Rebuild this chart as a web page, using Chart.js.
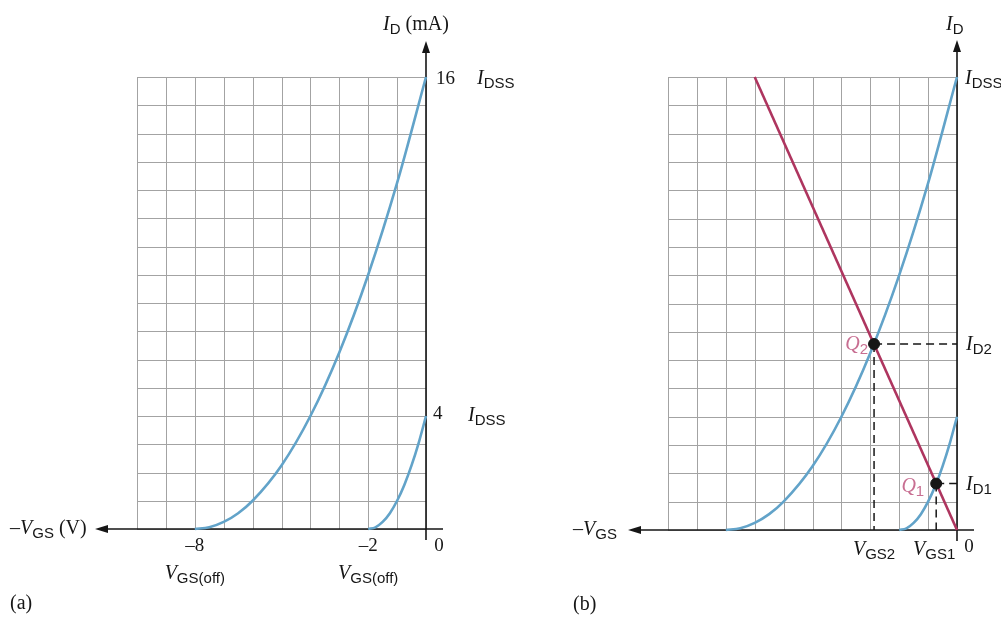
<!DOCTYPE html>
<html>
<head>
<meta charset="utf-8">
<script src="https://cdn.jsdelivr.net/npm/chart.js@4.4.1/dist/chart.umd.min.js"></script>
<style>
  html, body { margin: 0; padding: 0; background: #fff; }
  #wrap { position: relative; width: 1001px; height: 619px; overflow: hidden; }
  canvas { position: absolute; top: 0; }
  #chartA { left: 0; }
  #chartB { left: 500px; }
</style>
</head>
<body>
<div id="wrap">
  <canvas id="chartA" width="1001" height="619"></canvas>
  <canvas id="chartB" width="501" height="619"></canvas>
</div>
<script>
// transfer curve, IDSS = 16 mA, VGS(off) = -8 V
const vgsOuter = [-8, -7.5, -7, -6.5, -6, -5, -4, -3, -2, -1, 0];
const idOuter = [0, 0.06, 0.25, 0.56, 1, 2.25, 4, 6.25, 9, 12.25, 16];

// transfer curve, IDSS = 4 mA, VGS(off) = -2 V
const vgsInner = [-2, -1.75, -1.5, -1.25, -1, -0.75, -0.5, -0.25, 0];
const idInner = [0, 0.06, 0.25, 0.56, 1, 1.56, 2.25, 3.06, 4];

// self-bias line and the two Q-points on it
const loadVgs = [-7, 0];
const loadId = [16, 0];
const qVgs = [-0.72, -2.87];
const qId = [1.64, 6.57];
const qNames = ['1', '2'];

const xTicks = [-8, -2, 0];

const BLUE = '#62a3c9';
const RED = '#ae355f';
const PINK = '#c86f92';
const INK = '#161616';
const GRID = '#a3a3a3';

const SERIF = '"Liberation Serif", "DejaVu Serif", serif';
const SANS = '"Liberation Sans", Arial, sans-serif';

const toPoints = (xs, ys) => xs.map((x, i) => ({ x: x, y: ys[i] }));

function setFont(ctx, style) {
  if (style === 'i') ctx.font = 'italic 20px ' + SERIF;
  else if (style === 'r') ctx.font = '20px ' + SERIF;
  else if (style === 's') ctx.font = '15px ' + SANS;
  else if (style === 'n') ctx.font = '19px ' + SERIF;
}

// draws a row of text pieces: [text, style, dy]
function drawRun(ctx, x, y, parts, color) {
  ctx.save();
  ctx.fillStyle = color || INK;
  ctx.textBaseline = 'alphabetic';
  ctx.textAlign = 'left';
  let cx = x;
  parts.forEach(p => {
    setFont(ctx, p[1]);
    ctx.fillText(p[0], cx, y + (p[2] || 0));
    cx += ctx.measureText(p[0]).width;
  });
  ctx.restore();
  return cx - x;
}

function runWidth(ctx, parts) {
  ctx.save();
  let w = 0;
  parts.forEach(p => {
    setFont(ctx, p[1]);
    w += ctx.measureText(p[0]).width;
  });
  ctx.restore();
  return w;
}

const gridAndAxes = {
  id: 'gridAndAxes',
  beforeDatasetsDraw(chart, args, opts) {
    const { ctx, chartArea: { left, right, top, bottom }, scales: { x, y } } = chart;
    ctx.save();
    ctx.strokeStyle = GRID;
    ctx.lineWidth = 1;
    for (let v = x.min; v <= x.max; v++) {
      const px = Math.round(x.getPixelForValue(v)) + 0.5;
      ctx.beginPath();
      ctx.moveTo(px, top);
      ctx.lineTo(px, bottom);
      ctx.stroke();
    }
    for (let v = y.min; v <= y.max; v++) {
      const py = Math.round(y.getPixelForValue(v)) + 0.5;
      ctx.beginPath();
      ctx.moveTo(left, py);
      ctx.lineTo(right, py);
      ctx.stroke();
    }

    // axes with arrow heads
    const x0 = x.getPixelForValue(0);
    const y0 = y.getPixelForValue(0);
    ctx.strokeStyle = INK;
    ctx.fillStyle = INK;
    ctx.lineWidth = 1.6;
    ctx.beginPath();
    ctx.moveTo(x0, bottom + 11);
    ctx.lineTo(x0, opts.arrowTop + 10);
    ctx.moveTo(right + 17, y0);
    ctx.lineTo(opts.arrowLeft + 10, y0);
    ctx.stroke();

    ctx.beginPath();
    ctx.moveTo(x0, opts.arrowTop);
    ctx.lineTo(x0 - 4, opts.arrowTop + 12);
    ctx.lineTo(x0 + 4, opts.arrowTop + 12);
    ctx.closePath();
    ctx.fill();

    ctx.beginPath();
    ctx.moveTo(opts.arrowLeft, y0);
    ctx.lineTo(opts.arrowLeft + 13, y0 - 4);
    ctx.lineTo(opts.arrowLeft + 13, y0 + 4);
    ctx.closePath();
    ctx.fill();
    ctx.restore();
  }
};

// dashed projections from the Q-points, drawn under the marks
const projections = {
  id: 'projections',
  beforeDatasetsDraw(chart) {
    const { ctx, scales: { x, y } } = chart;
    ctx.save();
    ctx.strokeStyle = INK;
    ctx.lineWidth = 1.5;
    ctx.setLineDash([8, 5]);
    qVgs.forEach((v, i) => {
      const px = x.getPixelForValue(v);
      const py = y.getPixelForValue(qId[i]);
      ctx.beginPath();
      ctx.moveTo(px, py);
      ctx.lineTo(x.getPixelForValue(0), py);
      ctx.moveTo(px, py);
      ctx.lineTo(px, y.getPixelForValue(0));
      ctx.stroke();
    });
    ctx.restore();
  }
};

const labelsA = {
  id: 'labelsA',
  afterDraw(chart) {
    const { ctx, scales: { x, y } } = chart;
    const y0 = y.getPixelForValue(0);
    drawRun(ctx, 383, 30, [['I', 'i'], ['D', 's', 4], [' (mA)', 'r']]);
    drawRun(ctx, 436, y.getPixelForValue(16) + 7, [['16', 'n']]);
    drawRun(ctx, 477, y.getPixelForValue(16) + 7, [['I', 'i'], ['DSS', 's', 4]]);
    drawRun(ctx, 433, y.getPixelForValue(4) + 3, [['4', 'n']]);
    drawRun(ctx, 468, y.getPixelForValue(4) + 5, [['I', 'i'], ['DSS', 's', 4]]);

    ctx.save();
    ctx.font = '19px ' + SERIF;
    ctx.fillStyle = INK;
    ctx.textAlign = 'center';
    xTicks.forEach(v => {
      const t = v < 0 ? '\u2013' + Math.abs(v) : String(v);
      const dx = v === 0 ? 13 : 0;
      ctx.fillText(t, x.getPixelForValue(v) + dx, y0 + 22);
    });
    ctx.restore();

    [-8, -2].forEach(v => {
      const parts = [['V', 'i'], ['GS(off)', 's', 4]];
      const w = runWidth(ctx, parts);
      drawRun(ctx, x.getPixelForValue(v) - w / 2, y0 + 50, parts);
    });
    drawRun(ctx, 10, y0 + 5, [['\u2013', 'r'], ['V', 'i'], ['GS', 's', 4], [' (V)', 'r']]);
    drawRun(ctx, 10, 609, [['(a)', 'r']]);
  }
};

const labelsB = {
  id: 'labelsB',
  afterDraw(chart) {
    const { ctx, scales: { x, y } } = chart;
    const y0 = y.getPixelForValue(0);
    const right = chart.chartArea.right;
    drawRun(ctx, 446, 30, [['I', 'i'], ['D', 's', 4]]);
    drawRun(ctx, right + 8, y.getPixelForValue(16) + 7, [['I', 'i'], ['DSS', 's', 4]]);

    qVgs.forEach((v, i) => {
      const py = y.getPixelForValue(qId[i]);
      drawRun(ctx, right + 9, py + 6, [['I', 'i'], ['D' + qNames[i], 's', 4]]);
      const parts = [['V', 'i'], ['GS' + qNames[i], 's', 4]];
      const w = runWidth(ctx, parts);
      drawRun(ctx, x.getPixelForValue(v) - w / 2 - (i === 0 ? 2 : 0), y0 + 25, parts);
      const q = [['Q', 'i'], [qNames[i], 's', 4]];
      const qw = runWidth(ctx, q);
      const gap = i === 0 ? 12 : 6;
      drawRun(ctx, x.getPixelForValue(v) - qw - gap, py + (i === 0 ? 8 : 6), q, PINK);
    });

    ctx.save();
    ctx.font = '19px ' + SERIF;
    ctx.fillStyle = INK;
    ctx.textAlign = 'center';
    ctx.fillText('0', x.getPixelForValue(0) + 12, y0 + 22);
    ctx.restore();

    drawRun(ctx, 73, y0 + 5, [['\u2013', 'r'], ['V', 'i'], ['GS', 's', 4]]);
    drawRun(ctx, 73, 610, [['(b)', 'r']]);
  }
};

const curveStyle = {
  showLine: true,
  borderColor: BLUE,
  borderWidth: 2.6,
  pointRadius: 0,
  cubicInterpolationMode: 'monotone',
  clip: false,
  order: 2
};

function baseOptions(pad, arrows) {
  return {
    responsive: false,
    animation: false,
    events: [],
    layout: { padding: pad },
    scales: {
      x: { type: 'linear', min: -10, max: 0, display: false },
      y: { type: 'linear', min: 0, max: 16, display: false }
    },
    plugins: {
      legend: { display: false },
      tooltip: { enabled: false },
      gridAndAxes: arrows
    }
  };
}

new Chart(document.getElementById('chartA'), {
  type: 'scatter',
  data: {
    datasets: [
      Object.assign({ data: toPoints(vgsOuter, idOuter) }, curveStyle),
      Object.assign({ data: toPoints(vgsInner, idInner) }, curveStyle)
    ]
  },
  options: baseOptions({ left: 137, right: 575, top: 77, bottom: 90 }, { arrowTop: 41, arrowLeft: 95 }),
  plugins: [gridAndAxes, labelsA]
});

new Chart(document.getElementById('chartB'), {
  type: 'scatter',
  data: {
    datasets: [
      Object.assign({ data: toPoints(vgsOuter, idOuter) }, curveStyle),
      Object.assign({ data: toPoints(vgsInner, idInner) }, curveStyle),
      {
        data: toPoints(loadVgs, loadId),
        showLine: true,
        borderColor: RED,
        borderWidth: 2.6,
        pointRadius: 0,
        clip: false,
        order: 1
      },
      {
        data: toPoints(qVgs, qId),
        showLine: false,
        pointRadius: 5.5,
        pointBackgroundColor: INK,
        pointBorderColor: INK,
        clip: false,
        order: 0
      }
    ]
  },
  options: baseOptions({ left: 168, right: 44, top: 77, bottom: 89 }, { arrowTop: 40, arrowLeft: 128 }),
  plugins: [gridAndAxes, projections, labelsB]
});
</script>
</body>
</html>
